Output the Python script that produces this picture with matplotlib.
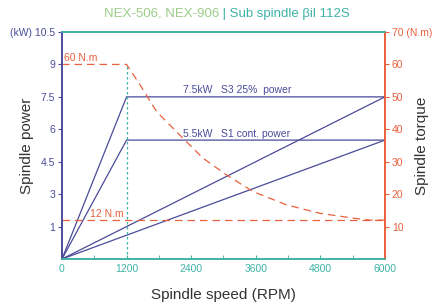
import numpy as np
import matplotlib.pyplot as plt

plt.rcParams['font.family'] = ['Liberation Sans', 'DejaVu Sans']

# speed (RPM) / power (kW) data
speed_ticks = [0, 1200, 2400, 3600, 4800, 6000]
power_ticks = [1.5, 3, 4.5, 6, 7.5, 9, 10.5]
power_labels = ['1', '3', '4.5', '6', '7.5', '9', '(kW) 10.5']
torque_ticks = [10, 20, 30, 40, 50, 60, 70]
torque_labels = ['10', '20', '30', '40', '50', '60', '70 (N.m)']

s3_speed = [0, 1200, 6000]
s3_power = [0, 7.5, 7.5]
s1_speed = [0, 1200, 6000]
s1_power = [0, 5.5, 5.5]
diag_speed = [0, 6000]
diag_s3 = [0, 7.5]
diag_s1 = [0, 5.5]

# torque curve (RPM, N.m)
torque_speed = [0, 1200, 1450, 1760, 2250, 2620, 3060, 3550, 4170, 4790, 5410, 5720, 6000]
torque_val = [60, 60, 53.7, 45.4, 37.2, 31.1, 25.9, 20.8, 16.7, 14.1, 12.6, 12.0, 12.0]
min_torque = 12
base_speed = 1200

navy = '#4b4b9a'
teal = '#3fb3a6'
red = '#e8603c'

fig = plt.figure(figsize=(4.32, 3.06), dpi=100)
ax = fig.add_axes([0.1435, 0.1536, 0.7475, 0.7418])
ax2 = ax.twinx()

ax.set_xlim(0, 6000)
ax.set_ylim(0, 10.5)
ax2.set_ylim(0, 70)

# power curves
ax.plot(s3_speed, s3_power, color=navy, lw=0.9)
ax.plot(s1_speed, s1_power, color=navy, lw=0.9)
ax.plot(diag_speed, diag_s3, color=navy, lw=0.9)
ax.plot(diag_speed, diag_s1, color=navy, lw=0.9)

# base speed marker
ax.plot([base_speed, base_speed], [0, 9], color=teal, lw=0.9, ls=(0, (2, 2)))

# torque curve
ax2.plot(torque_speed, torque_val, color=red, lw=0.9, ls=(0, (6, 4)))
ax2.plot([0, 6000], [min_torque, min_torque], color=red, lw=0.9, ls=(0, (6, 4)))

ax.text(2250, 7.68, '7.5kW   S3 25%  power', color=navy, fontsize=7.5)
ax.text(2250, 5.64, '5.5kW   S1 cont. power', color=navy, fontsize=7.5)
ax2.text(30, 61.2, '60 N.m', color=red, fontsize=7.5)
ax2.text(520, 12.9, '12 N.m', color=red, fontsize=7.5)

ax.set_xticks(speed_ticks)
ax.set_xticks(np.arange(600, 6000, 1200), minor=True)
ax.set_yticks(power_ticks)
ax.set_yticklabels(power_labels)
ax2.set_yticks(torque_ticks)
ax2.set_yticklabels(torque_labels)

ax.tick_params(axis='x', colors=teal, labelsize=7.5, direction='in', length=3)
ax.tick_params(axis='x', which='minor', colors=teal, direction='in', length=3)
ax.tick_params(axis='y', colors=navy, labelsize=7.5, length=3, pad=2)
ax2.tick_params(axis='y', colors=red, labelsize=7.5, length=3, pad=2)

for a in (ax, ax2):
    a.spines['bottom'].set_color(teal)
    a.spines['top'].set_color(teal)
    a.spines['left'].set_color(navy)
    a.spines['right'].set_color(red)
    for sp in a.spines.values():
        sp.set_linewidth(1.2)

ax.set_xlabel('Spindle speed (RPM)', fontsize=11, color='#333333', labelpad=10)
ax.set_ylabel('Spindle power', fontsize=11, color='#333333')
ax2.set_ylabel('Spindle torque', fontsize=11, color='#333333')
ax.yaxis.set_label_coords(-0.088, 0.5)
ax2.yaxis.set_label_coords(1.093, 0.5)

fig.text(0.507, 0.955, 'NEX-506, NEX-906', color='#9ccc8a', fontsize=9.5, ha='right', va='center')
fig.text(0.507, 0.955, ' | Sub spindle βil 112S', color=teal, fontsize=9.5, ha='left', va='center')

fig.savefig('out.png', dpi=100)
